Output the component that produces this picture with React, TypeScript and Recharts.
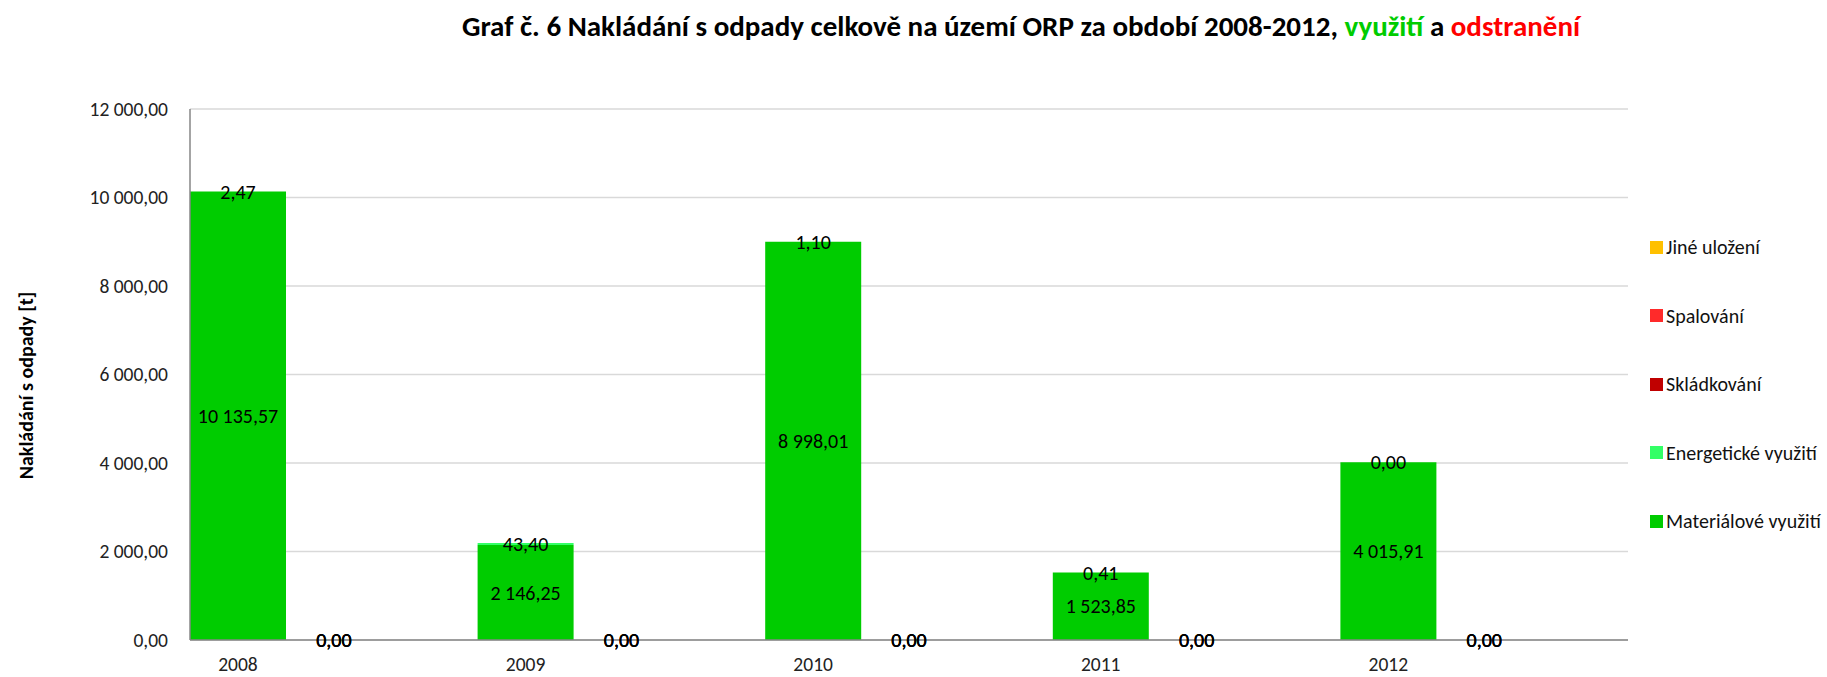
import { BarChart, Bar, XAxis, YAxis, CartesianGrid, Legend, LabelList, Label } from 'recharts';

// roky a hodnoty (t)
const years = ['2008', '2009', '2010', '2011', '2012'];
const materialove = [10135.57, 2146.25, 8998.01, 1523.85, 4015.91];
const energeticke = [2.47, 43.4, 1.1, 0.41, 0.0];
const skladkovani = [0, 0, 0, 0, 0];
const spalovani = [0, 0, 0, 0, 0];
const jineUlozeni = [0, 0, 0, 0, 0];

const yTicks = [0, 2000, 4000, 6000, 8000, 10000, 12000];

const seriesKeys = ['mat', 'en', 'skl', 'spal', 'jine'];
const seriesNames = ['Materiálové využití', 'Energetické využití', 'Skládkování', 'Spalování', 'Jiné uložení'];
const seriesColors = ['#00CC00', '#33FF66', '#C00000', '#FF2A2A', '#FFC000'];

const FONT = "Carlito, Calibri, 'Liberation Sans Narrow', 'Open Sans', sans-serif";

// každý rok = 3 sloty: využití, odstranění, mezera (jako v Excelu)
const table: Array<Record<string, any>> = [];
years.forEach((y, i) => {
  table.push({ slot: table.length, label: y, mat: materialove[i], en: energeticke[i] });
  table.push({ slot: table.length, label: '', skl: skladkovani[i], spal: spalovani[i], jine: jineUlozeni[i] });
  table.push({ slot: table.length, label: '' });
});

const fmt = (v: any) =>
  v === undefined || v === null
    ? ''
    : Number(v).toLocaleString('cs-CZ', { minimumFractionDigits: 2, maximumFractionDigits: 2 });

const renderLegend = () => (
  <div style={{ fontFamily: FONT, fontSize: 20, color: '#111' }}>
    {seriesNames
      .map((n, i) => ({ n, c: seriesColors[i] }))
      .reverse()
      .map((it) => (
        <div key={it.n} style={{ display: 'flex', alignItems: 'center', height: 68.5 }}>
          <span style={{ width: 13, height: 13, background: it.c, marginRight: 3, display: 'inline-block' }} />
          <span>{it.n}</span>
        </div>
      ))}
  </div>
);

export default function App() {
  return (
    <div style={{ position: 'absolute', left: 0, top: 0, width: 1827, height: 677, background: '#fff', fontFamily: FONT }}>
      {/* titulek */}
      <div
        style={{
          position: 'absolute',
          top: 8,
          left: 0,
          width: 2042,
          textAlign: 'center',
          fontSize: 29,
          fontWeight: 'bold',
          color: '#000',
          whiteSpace: 'nowrap',
        }}
      >
        Graf č. 6 Nakládání s odpady celkově na území ORP za období 2008-2012,{' '}
        <span style={{ color: '#00CC00' }}>využití</span> a <span style={{ color: '#FF0000' }}>odstranění</span>
      </div>

      <BarChart
        width={1827}
        height={677}
        data={table}
        margin={{ top: 109, right: 199, left: 0, bottom: 7 }}
        barCategoryGap={0}
        style={{ position: 'absolute', left: 0, top: 0 }}
      >
        <CartesianGrid stroke="#D9D9D9" strokeWidth={1.5} vertical={false} />
        <XAxis
          dataKey="slot"
          type="category"
          interval={0}
          height={30}
          tickFormatter={(i) => table[i]?.label ?? ''}
          tickLine={false}
          tickSize={6}
          tickMargin={11}
          axisLine={{ stroke: '#868686', strokeWidth: 1.5 }}
          tick={{ fill: '#222', fontSize: 19.5, fontFamily: FONT }}
        />
        <YAxis
          width={190}
          domain={[0, 12000]}
          ticks={yTicks}
          interval={0}
          tickFormatter={fmt}
          tickLine={false}
          tickSize={6}
          tickMargin={16}
          axisLine={{ stroke: '#868686', strokeWidth: 1.5 }}
          tick={{ fill: '#222', fontSize: 19.5, fontFamily: FONT }}
        >
          <Label
            value="Nakládání s odpady [t]"
            angle={-90}
            position="center"
            dx={-69}
            dy={11}
            style={{ fontSize: 20, fontWeight: 'bold', fontFamily: FONT, fill: '#000' }}
          />
        </YAxis>
        <Legend
          content={renderLegend}
          layout="vertical"
          align="center"
          verticalAlign="middle"
          wrapperStyle={{ left: 1650, top: 213, width: 177 }}
        />
        {seriesKeys.map((k, i) => (
          <Bar
            key={k}
            dataKey={k}
            name={seriesNames[i]}
            stackId="a"
            fill={seriesColors[i]}
            minPointSize={0.01}
            isAnimationActive={false}
          >
            <LabelList
              dataKey={k}
              position="center"
              formatter={fmt}
              fill="#000"
              style={{ fontSize: 20, fontFamily: FONT, fill: '#000' }}
            />
          </Bar>
        ))}
      </BarChart>
    </div>
  );
}
